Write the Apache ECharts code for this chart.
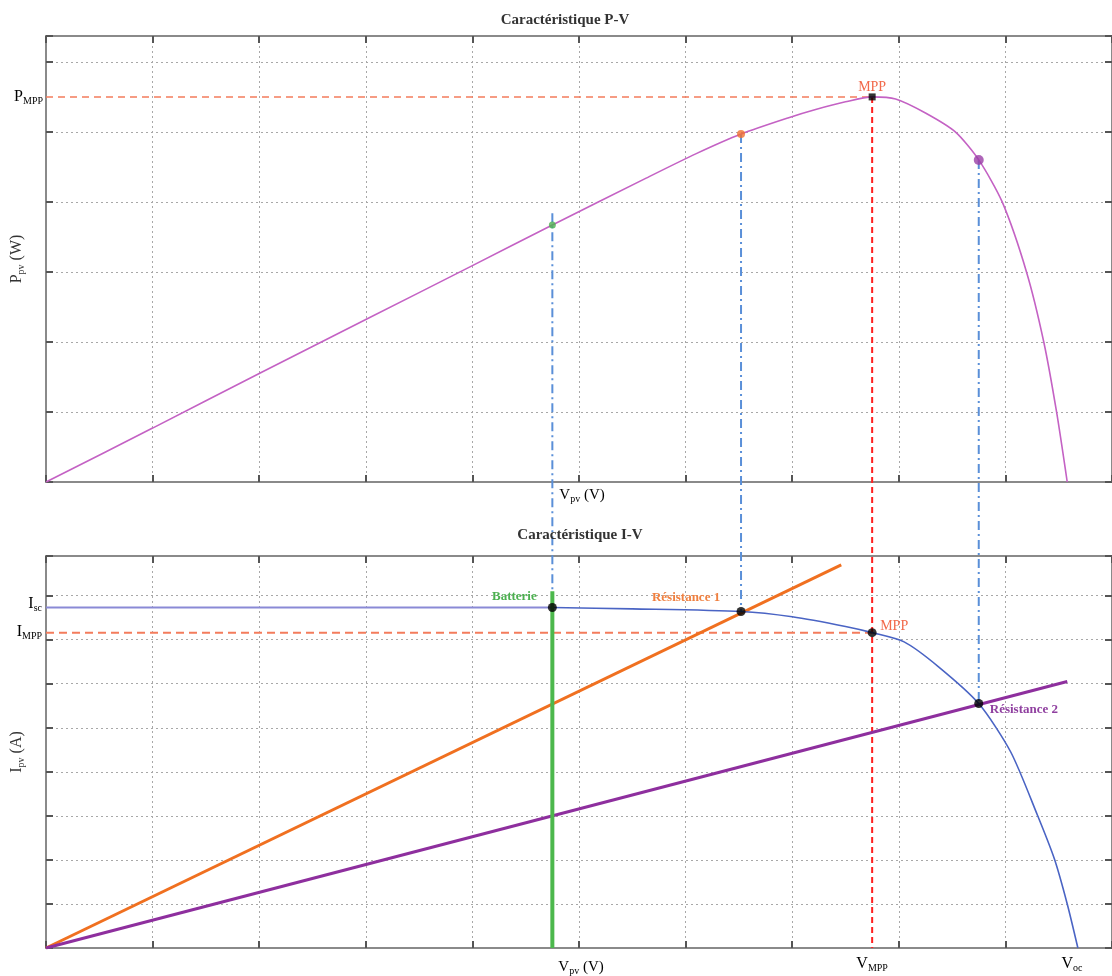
<!DOCTYPE html>
<html><head><meta charset="utf-8">
<script src="https://cdn.jsdelivr.net/npm/echarts@6/dist/echarts.min.js"></script>
<style>html,body{margin:0;padding:0;background:#fff}#c{width:1112px;height:976px}</style>
</head><body><div id="c"></div>
<script>
// ---- data (V in axis divisions, P and I in grid units) ----
const pvV = [0, 1, 2, 3, 4, 4.75, 5.63, 6.1, 6.52, 6.96, 7.22, 7.5, 7.75, 7.97, 8.25, 8.53, 8.75, 8.97, 9.2, 9.36, 9.48, 9.58];
const pvP = [0, 0.77, 1.55, 2.32, 3.09, 3.67, 4.34, 4.69, 4.97, 5.2, 5.32, 5.43, 5.5, 5.47, 5.27, 5.0, 4.6, 4.0, 2.99, 2.0, 1.0, 0];
const ivV = [0, 4.75, 5.5, 6.52, 7.0, 7.5, 7.75, 8.05, 8.37, 8.75, 9.05, 9.30, 9.46, 9.58, 9.68];
const ivI = [7.73, 7.73, 7.70, 7.64, 7.52, 7.30, 7.16, 6.95, 6.39, 5.55, 4.45, 3.02, 2.02, 1.0, 0];
// operating points: battery, resistance 1, MPP, resistance 2
const opNames = ['Batterie', 'Résistance 1', 'MPP', 'Résistance 2'];
const opV = [4.75, 6.52, 7.75, 8.75];
const opP = [3.67, 4.97, 5.5, 4.6];
const opI = [7.73, 7.64, 7.16, 5.55];
// load lines (end points; they start at the origin)
const r1End = [7.46, 8.70];
const r2End = [9.58, 6.05];
const batteryTopI = 8.1;
const batteryGuideTopP = 3.84;
const vOC = 9.68;
const xMax = 10, pMax = 6.37, iMax = 8.9;

const SERIF = "'Liberation Serif','DejaVu Serif',serif";
const chart = echarts.init(document.getElementById('c'));

function xAxes(g) {
  const base = {gridIndex: g, type: 'value', min: 0, max: xMax, interval: 1,
    axisLine: {show: true, onZero: false, lineStyle: {color: '#8a8a8a', width: 2}},
    axisTick: {show: true, inside: true, length: 7, lineStyle: {color: '#555', width: 2}},
    axisLabel: {show: false}};
  return [Object.assign({}, base, {position: 'bottom', splitLine: {show: true, lineStyle: {color: '#a8a8a8', width: 1, type: [2, 3]}}}),
          Object.assign({}, base, {position: 'top', splitLine: {show: false}})];
}
function yAxes(g, max, name) {
  const base = {gridIndex: g, type: 'value', min: 0, max: max, interval: 1,
    axisLine: {show: true, onZero: false, lineStyle: {color: '#8a8a8a', width: 2}},
    axisTick: {show: true, inside: true, length: 7, lineStyle: {color: '#555', width: 2}},
    axisLabel: {show: false}};
  return [Object.assign({}, base, {position: 'left', name: name, nameLocation: 'middle', nameGap: 20, nameRotate: 90,
            nameTextStyle: {rich: {m: {fontFamily: SERIF, fontSize: 16, color: '#333'}, s: {fontFamily: SERIF, fontSize: 10, color: '#333', padding: [9, 0, 0, 0]}}},
            splitLine: {show: true, lineStyle: {color: '#a8a8a8', width: 1, type: [2, 3]}}}),
          Object.assign({}, base, {position: 'right', splitLine: {show: false}})];
}

const pair = (xs, ys) => xs.map((v, i) => [v, ys[i]]);
const ivPts = pair(ivV, ivI);
const flatPart = ivPts.filter(p => p[0] <= opV[0]);
const restPart = ivPts.filter(p => p[0] >= opV[0]);

chart.setOption({
  animation: false,
  title: [
    {text: 'Caractéristique P-V', left: 560, top: 8, textAlign: 'center', textStyle: {fontFamily: SERIF, fontSize: 15, fontWeight: 'bold', color: '#333'}},
    {text: 'Caractéristique I-V', left: 575, top: 523, textAlign: 'center', textStyle: {fontFamily: SERIF, fontSize: 15, fontWeight: 'bold', color: '#333'}}
  ],
  grid: [
    {left: 46, top: 36, width: 1072, height: 446},
    {left: 46, top: 556, width: 1072, height: 392}
  ],
  xAxis: [...xAxes(0), ...xAxes(1)],
  yAxis: [...yAxes(0, pMax, '{m|P}{s|pv}{m| (W)}'), ...yAxes(1, iMax, '{m|I}{s|pv}{m| (A)}')],
  series: [
    // ---- P-V ----
    {type: 'line', xAxisIndex: 0, yAxisIndex: 0, data: [[0, opP[2]], [opV[2], opP[2]]], symbol: 'none',
      lineStyle: {color: '#f47c5c', width: 1.5, type: [7, 5]}, z: 3},
    {type: 'line', xAxisIndex: 0, yAxisIndex: 0, data: pair(pvV, pvP), smooth: 0.25, symbol: 'none',
      lineStyle: {color: '#c462c4', width: 1.6}, z: 4},
    {type: 'scatter', xAxisIndex: 0, yAxisIndex: 0, z: 6,
      data: [
        {value: [opV[0], opP[0]], symbolSize: 7, itemStyle: {color: '#4cb050'}},
        {value: [opV[1], opP[1]], symbolSize: 8, itemStyle: {color: '#f07030'}},
        {value: [opV[2], opP[2]], symbol: 'rect', symbolSize: 7, itemStyle: {color: '#000'}},
        {value: [opV[3], opP[3]], symbolSize: 10, itemStyle: {color: '#9a3fa6'}}
      ]},
    // ---- I-V ----
    {type: 'line', xAxisIndex: 2, yAxisIndex: 2, data: [[0, opI[2]], [opV[2], opI[2]]], symbol: 'none',
      lineStyle: {color: '#f47c5c', width: 2, type: [8, 5]}, z: 3},
    {type: 'line', xAxisIndex: 2, yAxisIndex: 2, data: [[0, 0], r1End], symbol: 'none',
      lineStyle: {color: '#f07020', width: 3}, z: 3},
    {type: 'line', xAxisIndex: 2, yAxisIndex: 2, data: [[0, 0], r2End], symbol: 'none',
      lineStyle: {color: '#8e2f9e', width: 3}, z: 3},
    {type: 'line', xAxisIndex: 2, yAxisIndex: 2, data: flatPart, symbol: 'none',
      lineStyle: {color: '#8a8ad6', width: 2}, z: 4},
    {type: 'line', xAxisIndex: 2, yAxisIndex: 2, data: restPart, smooth: 0.25, symbol: 'none',
      lineStyle: {color: '#4a64c4', width: 1.6}, z: 4},
    {type: 'line', xAxisIndex: 2, yAxisIndex: 2, data: [[opV[0], 0], [opV[0], batteryTopI]], symbol: 'none',
      lineStyle: {color: '#4cb84c', width: 4}, z: 5},
    {type: 'scatter', xAxisIndex: 2, yAxisIndex: 2, z: 6, symbolSize: 9, itemStyle: {color: '#000'},
      data: pair(opV, opI)}
  ]
});

// ---- guides and annotations placed through the chart's own scales ----
const topPx = (v, p) => chart.convertToPixel({xAxisIndex: 0, yAxisIndex: 0}, [v, p]);
const botPx = (v, i) => chart.convertToPixel({xAxisIndex: 2, yAxisIndex: 2}, [v, i]);
const els = [];
function vline(a, b, color, dash, w) {
  els.push({type: 'line', z: 1, shape: {x1: a[0], y1: a[1], x2: b[0], y2: b[1]},
    style: {stroke: color, lineWidth: w, lineDash: dash}});
}
const dashDot = [9, 4, 2, 4];
vline(topPx(opV[0], batteryGuideTopP), botPx(opV[0], opI[0]), '#5a8fd8', dashDot, 2);
vline(topPx(opV[1], opP[1]), botPx(opV[1], opI[1]), '#5a8fd8', dashDot, 2);
vline(topPx(opV[3], opP[3]), botPx(opV[3], opI[3]), '#5a8fd8', dashDot, 2);
vline(topPx(opV[2], opP[2]), botPx(opV[2], 0), '#ff2020', [6, 4], 2);

const sub = (color, size) => ({
  m: {fontFamily: SERIF, fontSize: size || 16, color: color},
  s: {fontFamily: SERIF, fontSize: 10, color: color, padding: [9, 0, 0, 0]}
});
function txt(x, y, text, opts) {
  els.push({type: 'text', z: 10, x: x, y: y, style: Object.assign({text: text, textAlign: 'left', textVerticalAlign: 'middle'}, opts)});
}
// axis-side labels
let p = topPx(0, opP[2]);
txt(p[0] - 3, p[1], '{m|P}{s|MPP}', {textAlign: 'right', rich: sub('#ff4040')});
p = botPx(0, opI[0]);
txt(p[0] - 4, p[1] - 4, '{m|I}{s|sc}', {textAlign: 'right', rich: sub('#7b7bc8')});
p = botPx(0, opI[2]);
txt(p[0] - 4, p[1] - 1, '{m|I}{s|MPP}', {textAlign: 'right', rich: sub('#ff2020')});
p = botPx(opV[2], 0);
txt(p[0], p[1] + 16, '{m|V}{s|MPP}', {textAlign: 'center', rich: sub('#ff2020')});
p = botPx(vOC, 0);
txt(p[0] - 6, p[1] + 16, '{m|V}{s|oc}', {textAlign: 'center', rich: sub('#6a6ab8')});
p = topPx(opV[0], 0);
txt(p[0] + 7, p[1] + 13, '{m|V}{s|pv}{m| (V)}', {rich: sub('#333', 15)});
p = botPx(opV[0], 0);
txt(p[0] + 6, p[1] + 19, '{m|V}{s|pv}{m| (V)}', {rich: sub('#333', 15)});
// point annotations
const lab = (c) => ({fontFamily: SERIF, fontSize: 13, fontWeight: 'bold', fill: c});
p = topPx(opV[2], opP[2]);
txt(p[0], p[1] - 10, 'MPP', Object.assign(lab('#f26a4b'), {textAlign: 'center', fontWeight: 'normal', fontSize: 14}));
p = botPx(opV[2], opI[2]);
txt(p[0] + 8, p[1] - 6, 'MPP', Object.assign(lab('#f26a4b'), {fontWeight: 'normal', fontSize: 14}));
p = botPx(opV[0], opI[0]);
txt(p[0] - 38, p[1] - 11, opNames[0], Object.assign(lab('#4cb050'), {textAlign: 'center'}));
p = botPx(opV[1], opI[1]);
txt(p[0] - 55, p[1] - 14, opNames[1], Object.assign(lab('#f08040'), {textAlign: 'center'}));
p = botPx(opV[3], opI[3]);
txt(p[0] + 11, p[1] + 6, opNames[3], lab('#9040a0'));

chart.setOption({graphic: {elements: els}});
</script>
</body></html>
